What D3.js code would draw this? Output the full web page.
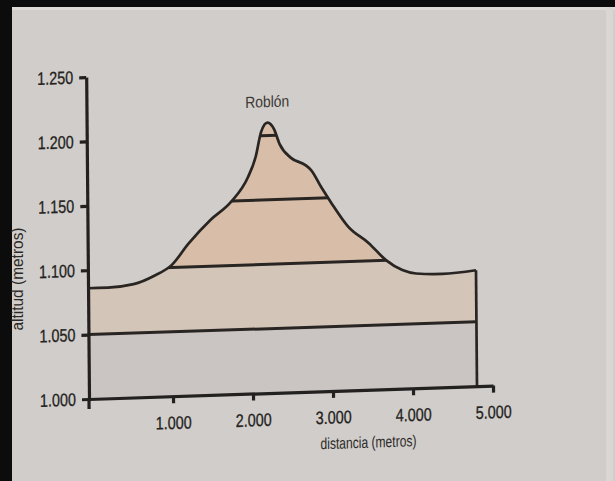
<!DOCTYPE html>
<html><head><meta charset="utf-8">
<script src="https://cdn.jsdelivr.net/npm/d3@7"></script>
<style>
body{margin:0;background:#cfcbc8;}
svg{display:block;}
</style></head>
<body>
<svg id="c" width="615" height="481"></svg>
<script>
// Data
const distances = [-50, 200, 520, 780, 1000, 1210, 1490, 1740, 1960, 2060, 2130, 2210, 2290, 2360, 2500, 2680, 2750, 2880, 2990, 3210, 3460, 3680, 3880, 4050, 4380, 4800];
const altitudes = [1086, 1086, 1088, 1094, 1102, 1118, 1136, 1149, 1168, 1184, 1203, 1210, 1205, 1193, 1182, 1176, 1172, 1158, 1147, 1127, 1114, 1100, 1092, 1089, 1088, 1090];
const contourLevels = [1050, 1100, 1150, 1200];
const yTicks = [1000, 1050, 1100, 1150, 1200, 1250];
const xTicks = [1000, 2000, 3000, 4000, 5000];
const peakName = "Roblón";
const peakDistance = 2210;
const peakLabelAlt = 1222;
const xTitle = "distancia (metros)";
const yTitle = "altitud (metros)";

const svg = d3.select("#c");
const W = 615, H = 481;
svg.append("rect").attr("width", W).attr("height", H).attr("fill", "#d0cdca");
// photo frame edges
svg.append("rect").attr("x", 0).attr("y", 0).attr("width", W).attr("height", 7).attr("fill", "#0c0c0c");
svg.append("rect").attr("x", 0).attr("y", 0).attr("width", 12).attr("height", H).attr("fill", "#0c0c0c");
svg.append("rect").attr("x", 12).attr("y", 7).attr("width", W-12).attr("height", 3).attr("fill", "#dcd9d6");
svg.append("rect").attr("x", 606).attr("y", 7).attr("width", 7).attr("height", H).attr("fill", "#d9d6d3");

const fmt = d3.formatLocale({decimal: ",", thousands: ".", grouping: [3], currency: ["", ""]}).format(",");

const x = d3.scaleLinear().domain([-50, 5000]).range([89, 493]);
const y = d3.scaleLinear().domain([1000, 1250]).range([399, 77]);

const g = svg.append("g")
  .attr("transform", "translate(89,399) skewY(-1.9) skewX(0.5) translate(-89,-399)");

const data = distances.map((d, i) => ({d, a: altitudes[i]}));
const lastD = distances[distances.length - 1];

const area = d3.area()
  .x(p => x(p.d)).y0(y(1000)).y1(p => y(p.a))
  .curve(d3.curveMonotoneX);
const line = d3.line()
  .x(p => x(p.d)).y(p => y(p.a))
  .curve(d3.curveMonotoneX);

g.append("clipPath").attr("id", "prof").append("path").attr("d", area(data));

const bands = [
  {lo: 1000, hi: 1050, c: "#cac5c2"},
  {lo: 1050, hi: 1100, c: "#d4c5b9"},
  {lo: 1100, hi: 1260, c: "#d8bea8"}
];
const fillG = g.append("g").attr("clip-path", "url(#prof)");
fillG.selectAll("rect").data(bands).join("rect")
  .attr("x", x(-50)).attr("width", x(lastD) - x(-50))
  .attr("y", b => y(b.hi)).attr("height", b => y(b.lo) - y(b.hi))
  .attr("fill", b => b.c);

fillG.selectAll("line.cont").data(contourLevels).join("line")
  .attr("class", "cont")
  .attr("x1", x(-50)).attr("x2", x(lastD))
  .attr("y1", d => y(d)).attr("y2", d => y(d))
  .attr("stroke", "#282523").attr("stroke-width", 3);

// profile outline
g.append("path").attr("d", line(data))
  .attr("fill", "none").attr("stroke", "#282523").attr("stroke-width", 2.7);
g.append("line")
  .attr("x1", x(lastD)).attr("x2", x(lastD))
  .attr("y1", y(altitudes[altitudes.length - 1])).attr("y2", y(1000))
  .attr("stroke", "#282523").attr("stroke-width", 2.7);

const font = "'Liberation Sans',Arial,sans-serif";

// axes
const yAxis = g.append("g").attr("transform", `translate(${x(-50)},0)`)
  .call(d3.axisLeft(y).tickValues(yTicks).tickFormat(fmt).tickSize(7).tickSizeOuter(0).tickPadding(6));
const xAxis = g.append("g").attr("transform", `translate(0,${y(1000)})`)
  .call(d3.axisBottom(x).tickValues(xTicks).tickFormat(fmt).tickSize(7).tickSizeOuter(0).tickPadding(13));
[yAxis, xAxis].forEach(a => {
  a.select(".domain").attr("stroke", "#232120").attr("stroke-width", 3.2);
  a.selectAll(".tick line").attr("stroke", "#232120").attr("stroke-width", 3.2);
  a.selectAll(".tick text").attr("fill", "#242220")
    .attr("stroke", "#242220").attr("stroke-width", 0.3)
    .style("font-family", font).style("font-size", "18px")
    .attr("textLength", 36).attr("lengthAdjust", "spacingAndGlyphs");
});
// y axis stub below the baseline
g.append("line").attr("x1", x(-50)).attr("x2", x(-50))
  .attr("y1", y(1000)).attr("y2", y(1000) + 10)
  .attr("stroke", "#232120").attr("stroke-width", 3.2);

// titles
g.append("text").attr("x", 368).attr("y", 457)
  .attr("text-anchor", "middle").attr("fill", "#2b2927")
  .style("font-family", font).style("font-size", "16px")
  .attr("textLength", 96).attr("lengthAdjust", "spacingAndGlyphs")
  .text(xTitle);
svg.append("text").attr("transform", "translate(23,279) rotate(-90)")
  .attr("text-anchor", "middle").attr("fill", "#2b2927")
  .style("font-family", font).style("font-size", "16px")
  .attr("textLength", 103).attr("lengthAdjust", "spacingAndGlyphs")
  .text(yTitle);
g.append("text").attr("x", x(peakDistance)).attr("y", y(peakLabelAlt))
  .attr("text-anchor", "middle").attr("fill", "#3a3633")
  .style("font-family", font).style("font-size", "16px")
  .attr("textLength", 44).attr("lengthAdjust", "spacingAndGlyphs")
  .text(peakName);
</script>
</body></html>
